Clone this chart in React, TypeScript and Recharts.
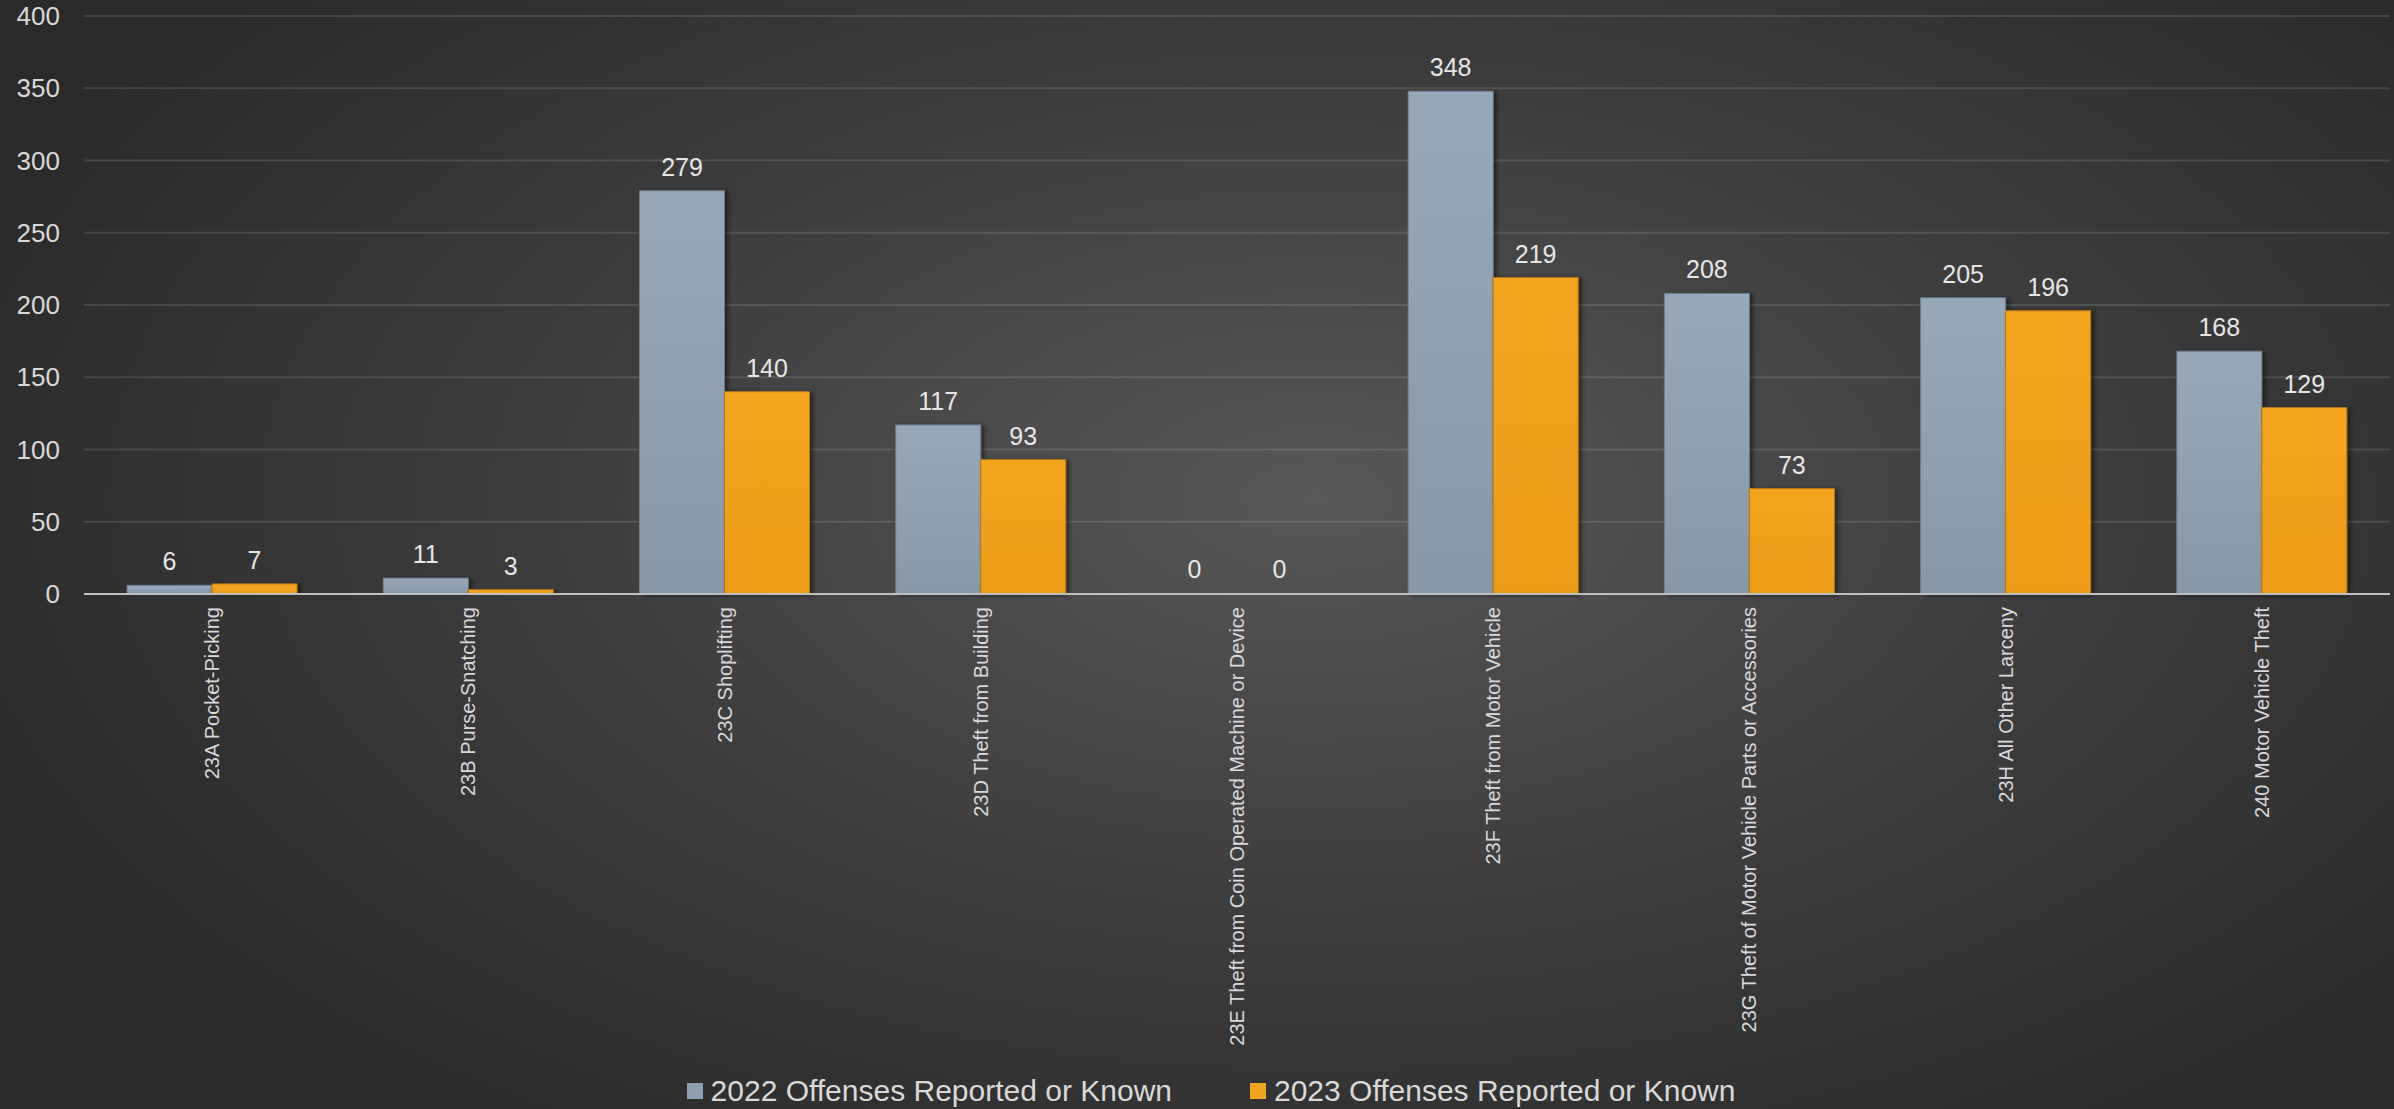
import React from "react";
import { Bar, BarChart, CartesianGrid, LabelList, Legend, Rectangle, XAxis, YAxis } from "recharts";

const categories = [
  "23A Pocket-Picking",
  "23B Purse-Snatching",
  "23C Shoplifting",
  "23D Theft from Building",
  "23E Theft from Coin Operated Machine or Device",
  "23F Theft from Motor Vehicle",
  "23G Theft of Motor Vehicle Parts or Accessories",
  "23H All Other Larceny",
  "240 Motor Vehicle Theft",
];
const offenses2022 = [6, 11, 279, 117, 0, 348, 208, 205, 168];
const offenses2023 = [7, 3, 140, 93, 0, 219, 73, 196, 129];
const yTicks = [0, 50, 100, 150, 200, 250, 300, 350, 400];

const label2022 = "2022 Offenses Reported or Known";
const label2023 = "2023 Offenses Reported or Known";

const data = categories.map((name, i) => ({
  name,
  y2022: offenses2022[i],
  y2023: offenses2023[i],
}));

const font = "'Liberation Sans', Arial, sans-serif";

function XTick(props: any) {
  const { x, y, payload } = props;
  return (
    <text
      transform={`translate(${x},${y + 13}) rotate(-90)`}
      textAnchor="end"
      dy="0.35em"
      fontSize={20}
      fontFamily={font}
      fill="#d9d9d9"
    >
      {payload.value}
    </text>
  );
}

// zero values get a 1px bar (so the label still shows) but we don't draw it
function BarShape(props: any) {
  if (props.height <= 1.5) return <g />;
  return <Rectangle {...props} />;
}

function LegendContent() {
  const items = [
    { label: label2022, color: "#8e9fb3" },
    { label: label2023, color: "#f0a31e" },
  ];
  return (
    <div
      style={{
        display: "flex",
        justifyContent: "center",
        alignItems: "center",
        height: 45,
        paddingTop: 8,
        boxSizing: "border-box",
        paddingLeft: 28,
        fontFamily: font,
        fontSize: 30,
        color: "#d9d9d9",
      }}
    >
      {items.map((it, i) => (
        <div key={it.label} style={{ display: "flex", alignItems: "center", marginLeft: i ? 78 : 0 }}>
          <span style={{ width: 16, height: 16, background: it.color, marginRight: 8, display: "inline-block" }} />
          <span>{it.label}</span>
        </div>
      ))}
    </div>
  );
}

export default function App() {
  return (
    <div
      style={{
        position: "absolute",
        left: 0,
        top: 0,
        width: 2394,
        height: 1109,
        background: "radial-gradient(ellipse 60% 70% at 55% 45%, #575757 0%, #3c3c3c 55%, #2a2a2a 100%)",
      }}
    >
      <BarChart
        width={2394}
        height={1109}
        data={data}
        margin={{ top: 16, right: 4, left: 0, bottom: 0 }}
        barCategoryGap="16.8%"
        barGap={0}
      >
        <defs>
          <linearGradient id="g2022" x1="0" y1="0" x2="0" y2="1">
            <stop offset="0%" stopColor="#97a8bb" />
            <stop offset="100%" stopColor="#8898ab" />
          </linearGradient>
          <linearGradient id="g2023" x1="0" y1="0" x2="0" y2="1">
            <stop offset="0%" stopColor="#f3a61f" />
            <stop offset="100%" stopColor="#ec9c17" />
          </linearGradient>
          <filter id="shadow" x="-10%" y="-10%" width="130%" height="120%">
            <feDropShadow dx="3" dy="1" stdDeviation="2" floodColor="#000" floodOpacity="0.5" />
          </filter>
        </defs>
        <CartesianGrid vertical={false} stroke="rgba(255,255,255,0.12)" strokeWidth={2} />
        <XAxis
          dataKey="name"
          interval={0}
          height={470}
          tick={<XTick />}
          tickLine={false}
          tickSize={0}
          tickMargin={0}
          axisLine={{ stroke: "#bfbfbf", strokeWidth: 2 }}
        />
        <YAxis
          domain={[0, 400]}
          ticks={yTicks}
          width={84}
          tickLine={false}
          axisLine={false}
          tickSize={0}
          tickMargin={24}
          tick={{ fontSize: 26, fill: "#d9d9d9", fontFamily: font }}
        />
        <Legend verticalAlign="bottom" height={45} content={<LegendContent />} wrapperStyle={{ left: 0, width: 2394, bottom: 0 }} />
        <Bar
          dataKey="y2022"
          name={label2022}
          fill="url(#g2022)"
          stroke="#6f7c8b"
          strokeWidth={1}
          filter="url(#shadow)"
          minPointSize={1}
          shape={BarShape}
          isAnimationActive={false}
        >
          <LabelList dataKey="y2022" position="top" offset={15} fontSize={25} fill="#e6e6e6" fontFamily={font} />
        </Bar>
        <Bar
          dataKey="y2023"
          name={label2023}
          fill="url(#g2023)"
          stroke="#b87816"
          strokeWidth={1}
          filter="url(#shadow)"
          minPointSize={1}
          shape={BarShape}
          isAnimationActive={false}
        >
          <LabelList dataKey="y2023" position="top" offset={15} fontSize={25} fill="#e6e6e6" fontFamily={font} />
        </Bar>
      </BarChart>
    </div>
  );
}
